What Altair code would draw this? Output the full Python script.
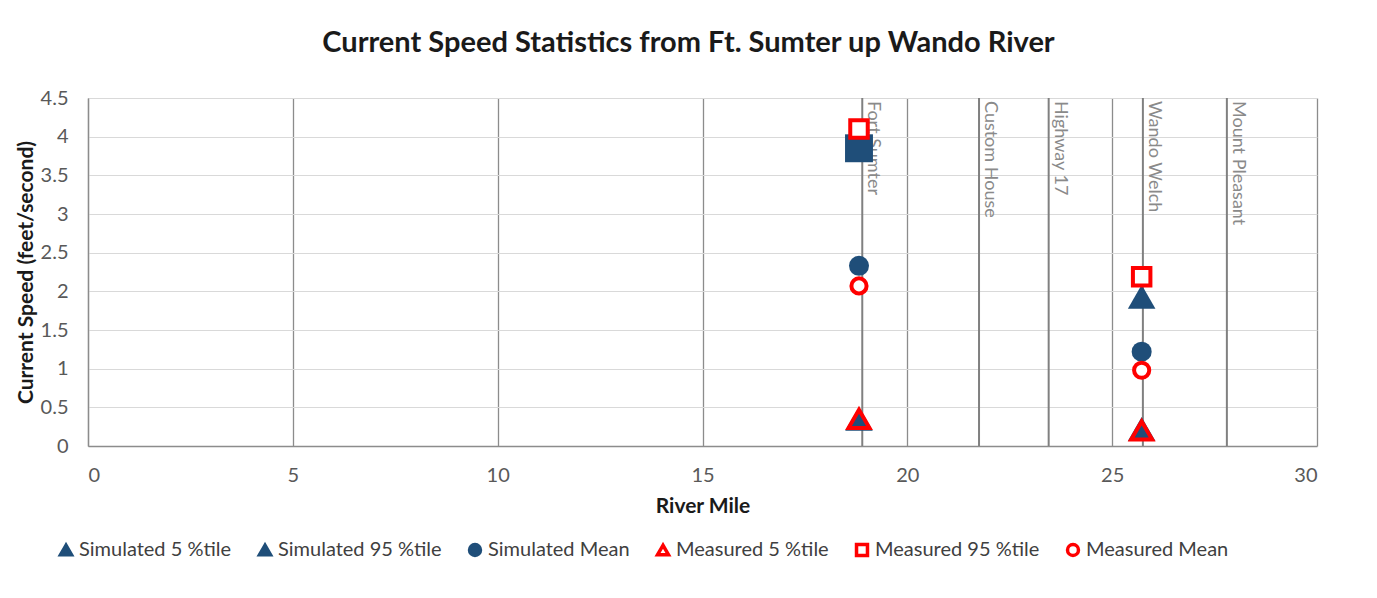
import altair as alt
import pandas as pd

# ---- data ----
series_names = ["Simulated 5 %tile", "Simulated 95 %tile", "Simulated Mean",
                "Measured 5 %tile", "Measured 95 %tile", "Measured Mean"]
station_miles = [18.82, 25.72]
fort_sumter_values = [0.35, 3.85, 2.33, 0.35, 4.10, 2.07]
wando_welch_values = [0.22, 1.93, 1.22, 0.20, 2.19, 0.98]

loc_names = ["Fort Sumter", "Custom House", "Highway 17", "Wando Welch", "Mount Pleasant"]
loc_miles = [18.9, 21.75, 23.45, 25.75, 27.8]

x_ticks = [0, 5, 10, 15, 20, 25, 30]
y_ticks = [0, 0.5, 1, 1.5, 2, 2.5, 3, 3.5, 4, 4.5]

rows = []
for mile, vals in zip(station_miles, [fort_sumter_values, wando_welch_values]):
    for s, v in zip(series_names, vals):
        rows.append({"mile": mile, "speed": v, "series": s})
pts = pd.DataFrame(rows)
locs = pd.DataFrame({"name": loc_names, "mile": loc_miles,
                     "top": [max(y_ticks)] * len(loc_names)})

BLUE = "#1f4e79"
RED = "#ff0000"
FONT = "Lato"

# marker styling per series
marker_shapes = ["triangle-up", "triangle-up", "circle", "triangle-up", "square", "circle"]
marker_fills = [BLUE, BLUE, BLUE, "transparent", "white", "white"]
marker_strokes = [BLUE, BLUE, BLUE, RED, RED, RED]
marker_sizes = [760, 760, 400, 440, 306, 230]

xscale = alt.Scale(domain=[0, 30], nice=False, zero=False)
yscale = alt.Scale(domain=[0, 4.5], nice=False)
x_axis = alt.Axis(title="River Mile", values=x_ticks, format="d", grid=True)
y_axis = alt.Axis(title="Current Speed (feet/second)", values=y_ticks,
                  format="~g", grid=True)

# the Fort Sumter simulated-95 point is drawn as a square in the reference
is_fs_sq = "datum.series == 'Simulated 95 %tile' && datum.mile < 20"

size_cond = {
    "condition": [{"test": "datum.series == '%s'" % s, "value": v}
                  for s, v in zip(series_names[:-1], marker_sizes[:-1])],
    "value": marker_sizes[-1],
}

loc_lines = alt.Chart(locs).mark_rule(color="#808080", strokeWidth=2).encode(
    x=alt.X("mile:Q", scale=xscale, axis=x_axis),
)

loc_text = alt.Chart(locs).mark_text(
    angle=90, align="left", baseline="bottom", dx=3, dy=-2,
    font=FONT, fontSize=18, color="#8a8a8a"
).encode(
    x=alt.X("mile:Q", scale=xscale, axis=x_axis),
    y=alt.Y("top:Q", scale=yscale, axis=y_axis),
    text="name:N",
)

fs_square = alt.Chart(pts).transform_filter(is_fs_sq).mark_point(
    shape="square", filled=True, opacity=1, color=BLUE, size=780
).encode(
    x=alt.X("mile:Q", scale=xscale, axis=x_axis),
    y=alt.Y("speed:Q", scale=yscale, axis=y_axis),
)

points = alt.Chart(pts).transform_filter("!(" + is_fs_sq + ")").mark_point(opacity=1).encode(
    x=alt.X("mile:Q", scale=xscale, axis=x_axis),
    y=alt.Y("speed:Q", scale=yscale, axis=y_axis),
    shape=alt.Shape("series:N",
                    scale=alt.Scale(domain=series_names, range=marker_shapes),
                    legend=alt.Legend(title="")),
    fill=alt.Fill("series:N",
                  scale=alt.Scale(domain=series_names, range=marker_fills),
                  legend=alt.Legend(title="")),
    stroke=alt.Stroke("series:N",
                      scale=alt.Scale(domain=series_names, range=marker_strokes),
                      legend=alt.Legend(title="")),
    strokeWidth=alt.condition("indexof(datum.series, 'Measured') == 0",
                              alt.value(4), alt.value(0)),
    size=size_cond,
)

chart = alt.layer(loc_lines, loc_text, fs_square, points).properties(
    width=1229, height=348,
    padding={"left": 80, "top": 90, "right": 50, "bottom": 140},
    autosize=alt.AutoSizeParams(type="none"),
    title=alt.TitleParams(
        "Current Speed Statistics from Ft. Sumter up Wando River",
        font=FONT, fontSize=29, fontWeight="bold", color="#1a1a1a",
        anchor="middle", dx=-14, offset=30,
    ),
).configure_view(stroke=None).configure_axis(
    labelFont=FONT, labelFontSize=20, labelColor="#595959",
    titleFont=FONT, titleFontSize=21, titleFontWeight="bold", titleColor="#1a1a1a",
    ticks=False, domainColor="#8c8c8c", domainWidth=1.3,
).configure_axisX(
    gridColor="#8c8c8c", gridWidth=1.3, labelPadding=19, titlePadding=10,
).configure_axisY(
    gridColor="#d9d9d9", gridWidth=1, labelPadding=20, titlePadding=4,
).configure_legend(
    orient="none", legendX=-32, legendY=442, direction="horizontal", columns=6,
    labelFont=FONT, labelFontSize=20, labelColor="#404040", labelLimit=300,
    symbolSize=120, symbolStrokeWidth=3.5, labelOffset=3,
    columnPadding=20, gridAlign="none",
)

chart.save("out.html", embed_options={"renderer": "svg", "actions": False})
